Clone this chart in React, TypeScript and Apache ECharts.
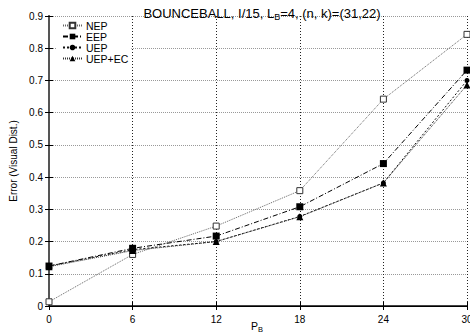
import React, { useEffect, useRef } from "react";
import * as echarts from "echarts";

const xValues = [0, 6, 12, 18, 24, 30];
const seriesNames = ["NEP", "EEP", "UEP", "UEP+EC"];
const nep = [0.013, 0.16, 0.248, 0.358, 0.642, 0.843];
const eep = [0.124, 0.179, 0.217, 0.308, 0.442, 0.732];
const uep = [0.124, 0.175, 0.2, 0.278, 0.382, 0.7];
const uepEc = [0.122, 0.172, 0.2, 0.277, 0.382, 0.686];

const FONT = "Liberation Sans, Arial, Helvetica, sans-serif";

function pairs(ys: number[]) {
  return xValues.map((x, i) => [x, ys[i]]);
}

export default function App() {
  const ref = useRef<HTMLDivElement>(null);
  useEffect(() => {
    if (!ref.current) return;
    const chart = echarts.init(ref.current, undefined, { renderer: "svg" });
    const tickStyle = { show: true, inside: true, length: 4, lineStyle: { color: "#000", width: 1 } };
    chart.setOption({
      animation: false,
      backgroundColor: "#fff",
      textStyle: { fontFamily: FONT },
      title: {
        text: "{t|BOUNCEBALL, I/15, L}{s|B}{t|=4, (n, k)=(31,22)}",
        left: 257,
        textAlign: "center",
        top: 0,
        textStyle: {
          fontWeight: "normal",
          rich: {
            t: { fontSize: 13, color: "#000", fontFamily: FONT, fontWeight: "normal" },
            s: { fontSize: 9, color: "#000", fontFamily: FONT, fontWeight: "normal", padding: [7, 0, 0, 0] },
          },
        },
      },
      graphic: [
        {
          type: "text",
          left: 251,
          top: 320,
          style: { text: "P", fontSize: 10.5, fill: "#000", fontFamily: FONT },
        },
        {
          type: "text",
          left: 258,
          top: 325,
          style: { text: "B", fontSize: 7.5, fill: "#000", fontFamily: FONT },
        },
      ],
      legend: {
        left: 57,
        top: 17,
        orient: "vertical",
        itemWidth: 19,
        itemHeight: 7,
        itemGap: 0,
        padding: [3, 3, 2, 5],
        backgroundColor: "#fff",
        data: seriesNames,
        textStyle: { fontSize: 10.5, lineHeight: 11, color: "#000", fontFamily: FONT, padding: [0, 0, 0, -1] },
      },
      grid: { left: 49, right: 3, top: 16, bottom: 28, containLabel: false, outerBoundsMode: "none" },
      xAxis: [
        {
          type: "value",
          min: 0,
          max: 30,
          interval: 6,
          axisLine: { show: true, lineStyle: { color: "#444", width: 2 } },
          axisTick: tickStyle,
          axisLabel: { fontSize: 10, color: "#000", margin: 8, fontFamily: FONT },
          splitLine: { show: true, lineStyle: { type: [1, 2], color: "#222", width: 1 } },
        },
        {
          type: "value",
          position: "top",
          min: 0,
          max: 30,
          interval: 6,
          axisLine: { show: true, lineStyle: { color: "#000", width: 1 } },
          axisTick: tickStyle,
          axisLabel: { show: false },
          splitLine: { show: false },
        },
      ],
      yAxis: [
        {
          type: "value",
          min: 0,
          max: 0.9,
          interval: 0.1,
          name: "Error (Visual Dist.)",
          nameLocation: "middle",
          nameGap: 31,
          nameRotate: 90,
          nameTextStyle: { fontSize: 10, color: "#000", fontFamily: FONT },
          axisLine: { show: true, lineStyle: { color: "#000", width: 1.5 } },
          axisTick: tickStyle,
          axisLabel: {
            fontSize: 10,
            color: "#000",
            margin: 6,
            fontFamily: FONT,
            formatter: (v: number) => (Math.round(v * 10) / 10).toString(),
          },
          splitLine: { show: true, lineStyle: { type: [1, 1], color: "#999", width: 1 } },
        },
        {
          type: "value",
          position: "right",
          min: 0,
          max: 0.9,
          interval: 0.1,
          axisLine: { show: true, lineStyle: { color: "#555", width: 2 } },
          axisTick: tickStyle,
          axisLabel: { show: false },
          splitLine: { show: false },
        },
      ],
      series: [
        {
          name: "NEP",
          type: "line",
          data: pairs(nep),
          symbol: "rect",
          symbolSize: 6,
          lineStyle: { type: [1, 1], color: "#666", width: 1 },
          itemStyle: { color: "#fff", borderColor: "#333", borderWidth: 1 },
        },
        {
          name: "EEP",
          type: "line",
          data: pairs(eep),
          symbol: "rect",
          symbolSize: 7,
          lineStyle: { type: [5, 2, 1, 2], color: "#000", width: 1 },
          itemStyle: { color: "#000" },
        },
        {
          name: "UEP",
          type: "line",
          data: pairs(uep),
          symbol: "circle",
          symbolSize: 5,
          lineStyle: { type: [2, 2], color: "#111", width: 1 },
          itemStyle: { color: "#000" },
        },
        {
          name: "UEP+EC",
          type: "line",
          data: pairs(uepEc),
          symbol: "triangle",
          symbolSize: 7,
          lineStyle: { type: [1, 1], color: "#333", width: 1 },
          itemStyle: { color: "#000" },
        },
      ],
    });
    return () => chart.dispose();
  }, []);
  return (
    <div
      ref={ref}
      style={{ position: "fixed", left: 0, top: 0, width: 470, height: 334 }}
    />
  );
}
